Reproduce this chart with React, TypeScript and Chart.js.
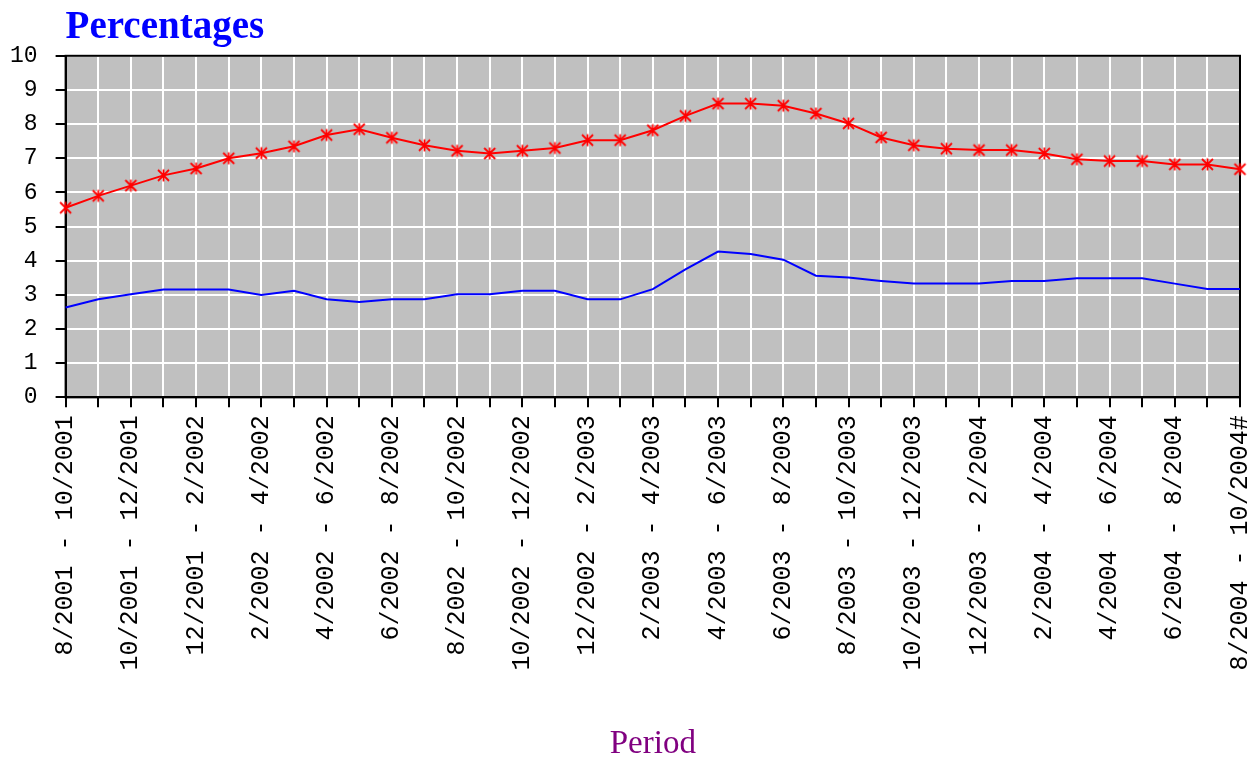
import React, { useEffect, useRef } from "react";
import { Chart, registerables } from "chart.js";

Chart.register(...registerables);

const periods: string[] = [
  "8/2001 - 10/2001", "9/2001 - 11/2001", "10/2001 - 12/2001", "11/2001 - 1/2002",
  "12/2001 - 2/2002", "1/2002 - 3/2002", "2/2002 - 4/2002", "3/2002 - 5/2002",
  "4/2002 - 6/2002", "5/2002 - 7/2002", "6/2002 - 8/2002", "7/2002 - 9/2002",
  "8/2002 - 10/2002", "9/2002 - 11/2002", "10/2002 - 12/2002", "11/2002 - 1/2003",
  "12/2002 - 2/2003", "1/2003 - 3/2003", "2/2003 - 4/2003", "3/2003 - 5/2003",
  "4/2003 - 6/2003", "5/2003 - 7/2003", "6/2003 - 8/2003", "7/2003 - 9/2003",
  "8/2003 - 10/2003", "9/2003 - 11/2003", "10/2003 - 12/2003", "11/2003 - 1/2004",
  "12/2003 - 2/2004", "1/2004 - 3/2004", "2/2004 - 4/2004", "3/2004 - 5/2004",
  "4/2004 - 6/2004", "5/2004 - 7/2004", "6/2004 - 8/2004", "7/2004 - 9/2004",
  "8/2004 - 10/2004#",
];

const redSeries: number[] = [
  5.55, 5.9, 6.2, 6.5, 6.7, 7.0, 7.15, 7.35, 7.68, 7.85, 7.6, 7.38, 7.22, 7.14,
  7.22, 7.3, 7.53, 7.53, 7.82, 8.24, 8.6, 8.6, 8.54, 8.31, 8.02, 7.61, 7.38,
  7.28, 7.24, 7.24, 7.14, 6.97, 6.92, 6.92, 6.82, 6.82, 6.68,
];

const blueSeries: number[] = [
  2.63, 2.87, 3.02, 3.16, 3.16, 3.16, 3.0, 3.12, 2.87, 2.79, 2.87, 2.87, 3.02,
  3.02, 3.12, 3.12, 2.87, 2.87, 3.17, 3.75, 4.27, 4.2, 4.03, 3.56, 3.51, 3.41,
  3.33, 3.33, 3.33, 3.41, 3.41, 3.49, 3.49, 3.49, 3.33, 3.17, 3.17,
];

const chartTitle = "Percentages";
const xTitle = "Period";

function makeStarMarker(): HTMLCanvasElement {
  const s = 15;
  const c = document.createElement("canvas");
  c.width = s;
  c.height = s;
  const g = c.getContext("2d")!;
  g.strokeStyle = "#ff0000";
  g.lineWidth = 1.8;
  g.beginPath();
  g.moveTo(2, 2);
  g.lineTo(s - 2, s - 2);
  g.moveTo(s - 2, 2);
  g.lineTo(2, s - 2);
  g.moveTo(s / 2, 1.5);
  g.lineTo(s / 2, s - 1.5);
  g.stroke();
  return c;
}

const plotFrame = {
  id: "plotFrame",
  beforeDraw(chart: any) {
    const { ctx, chartArea: a } = chart;
    ctx.save();
    ctx.fillStyle = "#c0c0c0";
    ctx.fillRect(a.left, a.top, a.right - a.left, a.bottom - a.top);
    ctx.restore();
  },
  beforeDatasetsDraw(chart: any) {
    const { ctx, chartArea: a } = chart;
    ctx.save();
    ctx.strokeStyle = "#000";
    ctx.lineWidth = 2;
    ctx.strokeRect(a.left, a.top, a.right - a.left, a.bottom - a.top);
    ctx.restore();
  },
};

export default function App() {
  const ref = useRef<HTMLCanvasElement>(null);
  useEffect(() => {
    if (!ref.current) return;
    const marker = makeStarMarker();
    const chart = new Chart(ref.current, {
      type: "line",
      data: {
        labels: periods,
        datasets: [
          {
            data: blueSeries,
            borderColor: "#0000ff",
            borderWidth: 2,
            pointRadius: 0,
            tension: 0,
          },
          {
            data: redSeries,
            borderColor: "#ff0000",
            borderWidth: 2,
            pointStyle: marker as any,
            pointRadius: 7,
            tension: 0,
          },
        ],
      },
      plugins: [plotFrame],
      options: {
        animation: false,
        responsive: true,
        maintainAspectRatio: false,
        layout: { padding: { left: -8, right: 0, top: 0, bottom: -4 } },
        plugins: {
          legend: { display: false },
          tooltip: { enabled: false },
          title: {
            display: true,
            text: chartTitle,
            align: "start",
            fullSize: false,
            color: "#0000ff",
            font: { family: "Liberation Serif", size: 39, weight: "bold" },
            padding: { top: 5, bottom: 4 },
          },
        },
        scales: {
          x: {
            offset: false,
            grid: {
              color: "#ffffff",
              lineWidth: 2,
              tickColor: "#000",
              tickLength: 10,
              tickWidth: 2,
            },
            border: { color: "#000", width: 2 },
            ticks: {
              autoSkip: false,
              maxRotation: 90,
              minRotation: 90,
              padding: 8,
              color: "#000",
              font: { family: "Liberation Mono", size: 25 },
              callback: (_v: any, i: number) => (i % 2 === 0 ? periods[i] : ""),
            },
            title: {
              display: true,
              text: xTitle,
              color: "#800080",
              font: { family: "Liberation Serif", size: 33 },
              padding: { top: 46, bottom: 0 },
            },
          },
          y: {
            min: 0,
            max: 10,
            grid: {
              color: "#ffffff",
              lineWidth: 2,
              tickColor: "#000",
              tickLength: 10,
              tickWidth: 2,
            },
            border: { color: "#000", width: 2 },
            ticks: {
              stepSize: 1,
              padding: 18,
              color: "#000",
              font: { family: "Liberation Mono", size: 23 },
            },
          },
        },
      },
    });
    return () => chart.destroy();
  }, []);
  return (
    <div style={{ position: "fixed", left: 0, top: 0, width: 1259, height: 760, overflow: "hidden", background: "#fff" }}>
      <div style={{ position: "absolute", left: 0, top: 0, width: 1278, height: 760 }}>
        <canvas ref={ref} />
      </div>
    </div>
  );
}
